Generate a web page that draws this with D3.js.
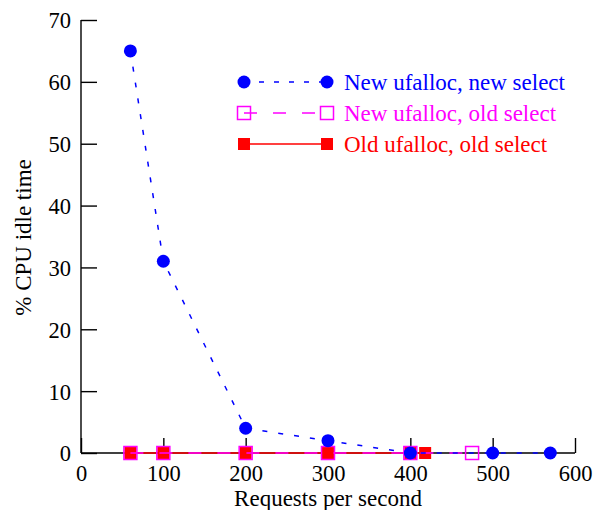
<!DOCTYPE html>
<html>
<head>
<meta charset="utf-8">
<script src="https://cdn.jsdelivr.net/npm/d3@7"></script>
<style>
  html, body { margin: 0; padding: 0; background: #fff; }
  svg { display: block; }
</style>
</head>
<body>
<svg id="chart" width="603" height="510"></svg>
<script>
// Requests per second vs. % CPU idle time for three allocator/select combinations
const newNewX = [60, 100, 200, 300, 400, 500, 570];
const newNewY = [65, 31, 4, 2, 0, 0, 0];

const newOldX = [60, 100, 200, 300, 400, 475];
const newOldY = [0, 0, 0, 0, 0, 0];

const oldOldX = [60, 100, 200, 300, 400, 418];
const oldOldY = [0, 0, 0, 0, 0, 0];

const seriesNames = ["New ufalloc, new select", "New ufalloc, old select", "Old ufalloc, old select"];
const xTicks = [0, 100, 200, 300, 400, 500, 600];
const yTicks = [0, 10, 20, 30, 40, 50, 60, 70];

const FONT = "'Liberation Serif', 'DejaVu Serif', serif";
const svg = d3.select("#chart");
const x = d3.scaleLinear().domain([0, 600]).range([81, 575]);
const y = d3.scaleLinear().domain([0, 70]).range([453, 20]);

const BLUE = "#0000ff", MAGENTA = "#ff00ff", RED = "#ff0000";

// Axes: ticks point inward
const xAxis = d3.axisBottom(x).tickValues(xTicks).tickSize(-15).tickFormat(d3.format("d"));
const yAxis = d3.axisLeft(y).tickValues(yTicks).tickSize(-16).tickPadding(10).tickFormat(d3.format("d"));

const gx = svg.append("g").attr("transform", `translate(0,${y(0)})`).call(xAxis);
const gy = svg.append("g").attr("transform", `translate(${x(0)},0)`).call(yAxis);
[gx, gy].forEach(g => {
  g.attr("font-family", FONT).attr("font-size", 22.5);
  g.select(".domain").attr("stroke", "#000").attr("stroke-width", 1.4)
    .attr("d", g === gx ? `M${x(0)},0H${x(600)}` : `M0,${y(0)}V${y(70)}`);
  g.selectAll(".tick line").attr("stroke", "#000").attr("stroke-width", 1.4);
  g.selectAll(".tick text").attr("fill", "#000");
});
gx.selectAll(".tick text").attr("y", 12).attr("dy", "0.71em");
gy.selectAll(".tick text").attr("dy", "0.35em");

// Axis titles
svg.append("text").attr("x", 328).attr("y", 506).attr("text-anchor", "middle")
  .attr("font-family", FONT).attr("font-size", 23).text("Requests per second");
svg.append("text").attr("transform", `translate(31,${y(35) + 1}) rotate(-90)`)
  .attr("text-anchor", "middle").attr("font-family", FONT).attr("font-size", 23).text("% CPU idle time");

const line = d3.line().x(d => x(d[0])).y(d => y(d[1]));

const oldOld = d3.zip(oldOldX, oldOldY);
const newOld = d3.zip(newOldX, newOldY);
const newNew = d3.zip(newNewX, newNewY);

// Old ufalloc, old select: solid red with filled squares
svg.append("path").attr("d", line(oldOld)).attr("fill", "none")
  .attr("stroke", RED).attr("stroke-width", 1.5);
svg.append("g").selectAll("rect").data(oldOld).join("rect")
  .attr("x", d => x(d[0]) - 6).attr("y", d => y(d[1]) - 6)
  .attr("width", 12).attr("height", 12).attr("fill", RED);

// New ufalloc, old select: dashed magenta with open squares
svg.append("path").attr("d", line(newOld)).attr("fill", "none")
  .attr("stroke", MAGENTA).attr("stroke-width", 1.5).attr("stroke-dasharray", "13,16");
svg.append("g").selectAll("rect").data(newOld).join("rect")
  .attr("x", d => x(d[0]) - 6.5).attr("y", d => y(d[1]) - 6.5)
  .attr("width", 13).attr("height", 13).attr("fill", "none")
  .attr("stroke", MAGENTA).attr("stroke-width", 1.5);

// New ufalloc, new select: dotted blue polyline with filled circles
svg.append("path").attr("d", line(newNew)).attr("fill", "none")
  .attr("stroke", BLUE).attr("stroke-width", 1.5).attr("stroke-dasharray", "5,11");
svg.append("g").selectAll("circle").data(newNew).join("circle")
  .attr("cx", d => x(d[0])).attr("cy", d => y(d[1])).attr("r", 6.5).attr("fill", BLUE);

// Legend
const legend = svg.append("g");
const lx0 = 244, lx1 = 327, ltx = 344;
const rows = [82, 113, 144];

// row 1
legend.append("line").attr("x1", lx0 + 7).attr("x2", lx1).attr("y1", rows[0]).attr("y2", rows[0])
  .attr("stroke", BLUE).attr("stroke-width", 1.5).attr("stroke-dasharray", "5,10").attr("stroke-dashoffset", -8);
[lx0, lx1].forEach(cx => legend.append("circle").attr("cx", cx).attr("cy", rows[0]).attr("r", 6.5).attr("fill", BLUE));
// row 2
legend.append("line").attr("x1", lx0).attr("x2", lx1).attr("y1", rows[1]).attr("y2", rows[1])
  .attr("stroke", MAGENTA).attr("stroke-width", 1.5).attr("stroke-dasharray", "13,16");
[lx0, lx1].forEach(cx => legend.append("rect").attr("x", cx - 6.5).attr("y", rows[1] - 6.5)
  .attr("width", 13).attr("height", 13).attr("fill", "none").attr("stroke", MAGENTA).attr("stroke-width", 1.5));
// row 3
legend.append("line").attr("x1", lx0).attr("x2", lx1).attr("y1", rows[2]).attr("y2", rows[2])
  .attr("stroke", RED).attr("stroke-width", 1.5);
[lx0, lx1].forEach(cx => legend.append("rect").attr("x", cx - 6).attr("y", rows[2] - 6)
  .attr("width", 12).attr("height", 12).attr("fill", RED));

[BLUE, MAGENTA, RED].forEach((c, i) => {
  legend.append("text").attr("x", ltx).attr("y", rows[i]).attr("dy", "0.35em")
    .attr("fill", c).attr("font-family", FONT).attr("font-size", 23).text(seriesNames[i]);
});
</script>
</body>
</html>
